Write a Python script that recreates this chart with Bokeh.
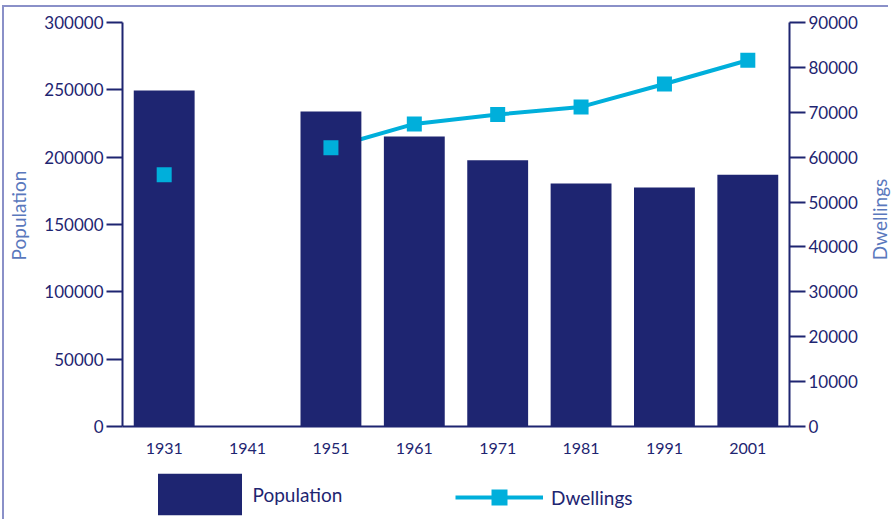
import math
from bokeh.plotting import figure
from bokeh.models import (Range1d, LinearAxis, SingleIntervalTicker, FixedTicker,
                          BasicTickFormatter, Legend, LegendItem, Label)
from bokeh.embed import file_html
from bokeh.resources import INLINE

NAN = float("nan")
years = [1931, 1941, 1951, 1961, 1971, 1981, 1991, 2001]
population = [249500, NAN, 234000, 215300, 197700, 180400, 177500, 187000]
dwellings = [56100, NAN, 62100, 67400, 69500, 71200, 76300, 81600]

POP_MAX = 300000
DW_MAX = 90000
STEP = 10                       # years between censuses
X_START = years[0] - STEP / 2   # left value axis sits here
X_END = years[-1] + STEP / 2    # right value axis sits here

NAVY = "#1e2571"
CYAN = "#00afdb"
TITLE = "#5a78bd"
FRAME = "#8a90c8"
FONT = "Lato"

# layout in pixels
W, H = 892, 519
AX_LEFT, AX_RIGHT = 122, 789    # pixel x of the value axes
AX_TOP, AX_ZERO = 22, 426       # pixel y of the axis top and of zero
px_per_year = (AX_RIGHT - AX_LEFT) / (X_END - X_START)
x_lo = X_START - AX_LEFT / px_per_year
x_hi = X_START + (W - AX_LEFT) / px_per_year
pop_per_px = POP_MAX / (AX_ZERO - AX_TOP)
dw_per_px = DW_MAX / (AX_ZERO - AX_TOP)

p = figure(width=W, height=H, x_range=Range1d(x_lo, x_hi),
           y_range=Range1d(-(H - AX_ZERO) * pop_per_px, POP_MAX + AX_TOP * pop_per_px),
           output_backend="svg", toolbar_location=None,
           min_border_left=0, min_border_right=0, min_border_top=0, min_border_bottom=0)
p.extra_y_ranges = {"dw": Range1d(-(H - AX_ZERO) * dw_per_px, DW_MAX + AX_TOP * dw_per_px)}
p.outline_line_color = None
p.xgrid.grid_line_color = None
p.ygrid.grid_line_color = None
p.background_fill_alpha = 0
p.border_fill_alpha = 0
p.styles = {
    "background": (f"linear-gradient({FRAME},{FRAME}) 3px 5px / 885px 2px no-repeat, "
                   f"linear-gradient({FRAME},{FRAME}) 2px 5px / 2px 520px no-repeat, white"),
}

line_r = p.line(x=years, y=dwellings, y_range_name="dw", line_color=CYAN, line_width=4)
bars = p.vbar(x=years, top=population, width=7.3, fill_color=NAVY, line_color=None)
pts = p.scatter(x=years, y=dwellings, y_range_name="dw", marker="square", size=15,
                fill_color=CYAN, line_color=None)

def style_axis(ax, size="17px"):
    ax.axis_line_color = NAVY
    ax.axis_line_width = 2
    ax.major_tick_line_color = NAVY
    ax.major_tick_line_width = 2
    ax.major_tick_out = 16
    ax.major_tick_in = 0
    ax.minor_tick_line_color = None
    ax.major_label_text_color = NAVY
    ax.major_label_text_font = FONT
    ax.major_label_text_font_size = size
    ax.major_label_standoff = 3

ly = p.yaxis[0]
ly.ticker = SingleIntervalTicker(interval=50000)
ly.formatter = BasicTickFormatter(use_scientific=False)
ly.bounds = (0, POP_MAX)
ly.fixed_location = X_START
style_axis(ly)

ry = LinearAxis(y_range_name="dw", ticker=SingleIntervalTicker(interval=10000),
                formatter=BasicTickFormatter(use_scientific=False), bounds=(0, DW_MAX))
ry.fixed_location = X_END
style_axis(ry)
p.add_layout(ry, "right")

xa = p.xaxis[0]
style_axis(xa, "16px")
xa.ticker = FixedTicker(ticks=years)
xa.formatter = BasicTickFormatter(use_scientific=False)
xa.bounds = (X_START, X_END)
xa.fixed_location = 0
xa.major_tick_line_color = None
xa.major_tick_out = 0
xa.major_label_standoff = 16

p.add_layout(Label(x=18, y=H - 215, x_units="screen", y_units="screen", text="Population",
                   angle=math.pi / 2, text_align="center", text_baseline="middle",
                   text_color=TITLE, text_font=FONT, text_font_size="19px"))
p.add_layout(Label(x=879, y=H - 219, x_units="screen", y_units="screen", text="Dwellings",
                   angle=math.pi / 2, text_align="center", text_baseline="middle",
                   text_color=TITLE, text_font=FONT, text_font_size="19px"))

leg1 = Legend(items=[LegendItem(label="Population", renderers=[bars])],
              location=(146.5, -1), glyph_width=105, glyph_height=52, label_height=52,
              label_standoff=1, padding=0, margin=0, border_line_color=None,
              background_fill_alpha=0, label_text_font=FONT, label_text_font_size="19px",
              label_text_color=NAVY)
leg2 = Legend(items=[LegendItem(label="Dwellings", renderers=[line_r, pts])],
              location=(455, 2), glyph_width=88, glyph_height=40, label_height=40,
              label_standoff=8, padding=0, margin=0, border_line_color=None,
              background_fill_alpha=0, label_text_font=FONT, label_text_font_size="19px",
              label_text_color=NAVY)
p.add_layout(leg1, "center")
p.add_layout(leg2, "center")

open("out.html", "w").write(file_html(p, INLINE))
